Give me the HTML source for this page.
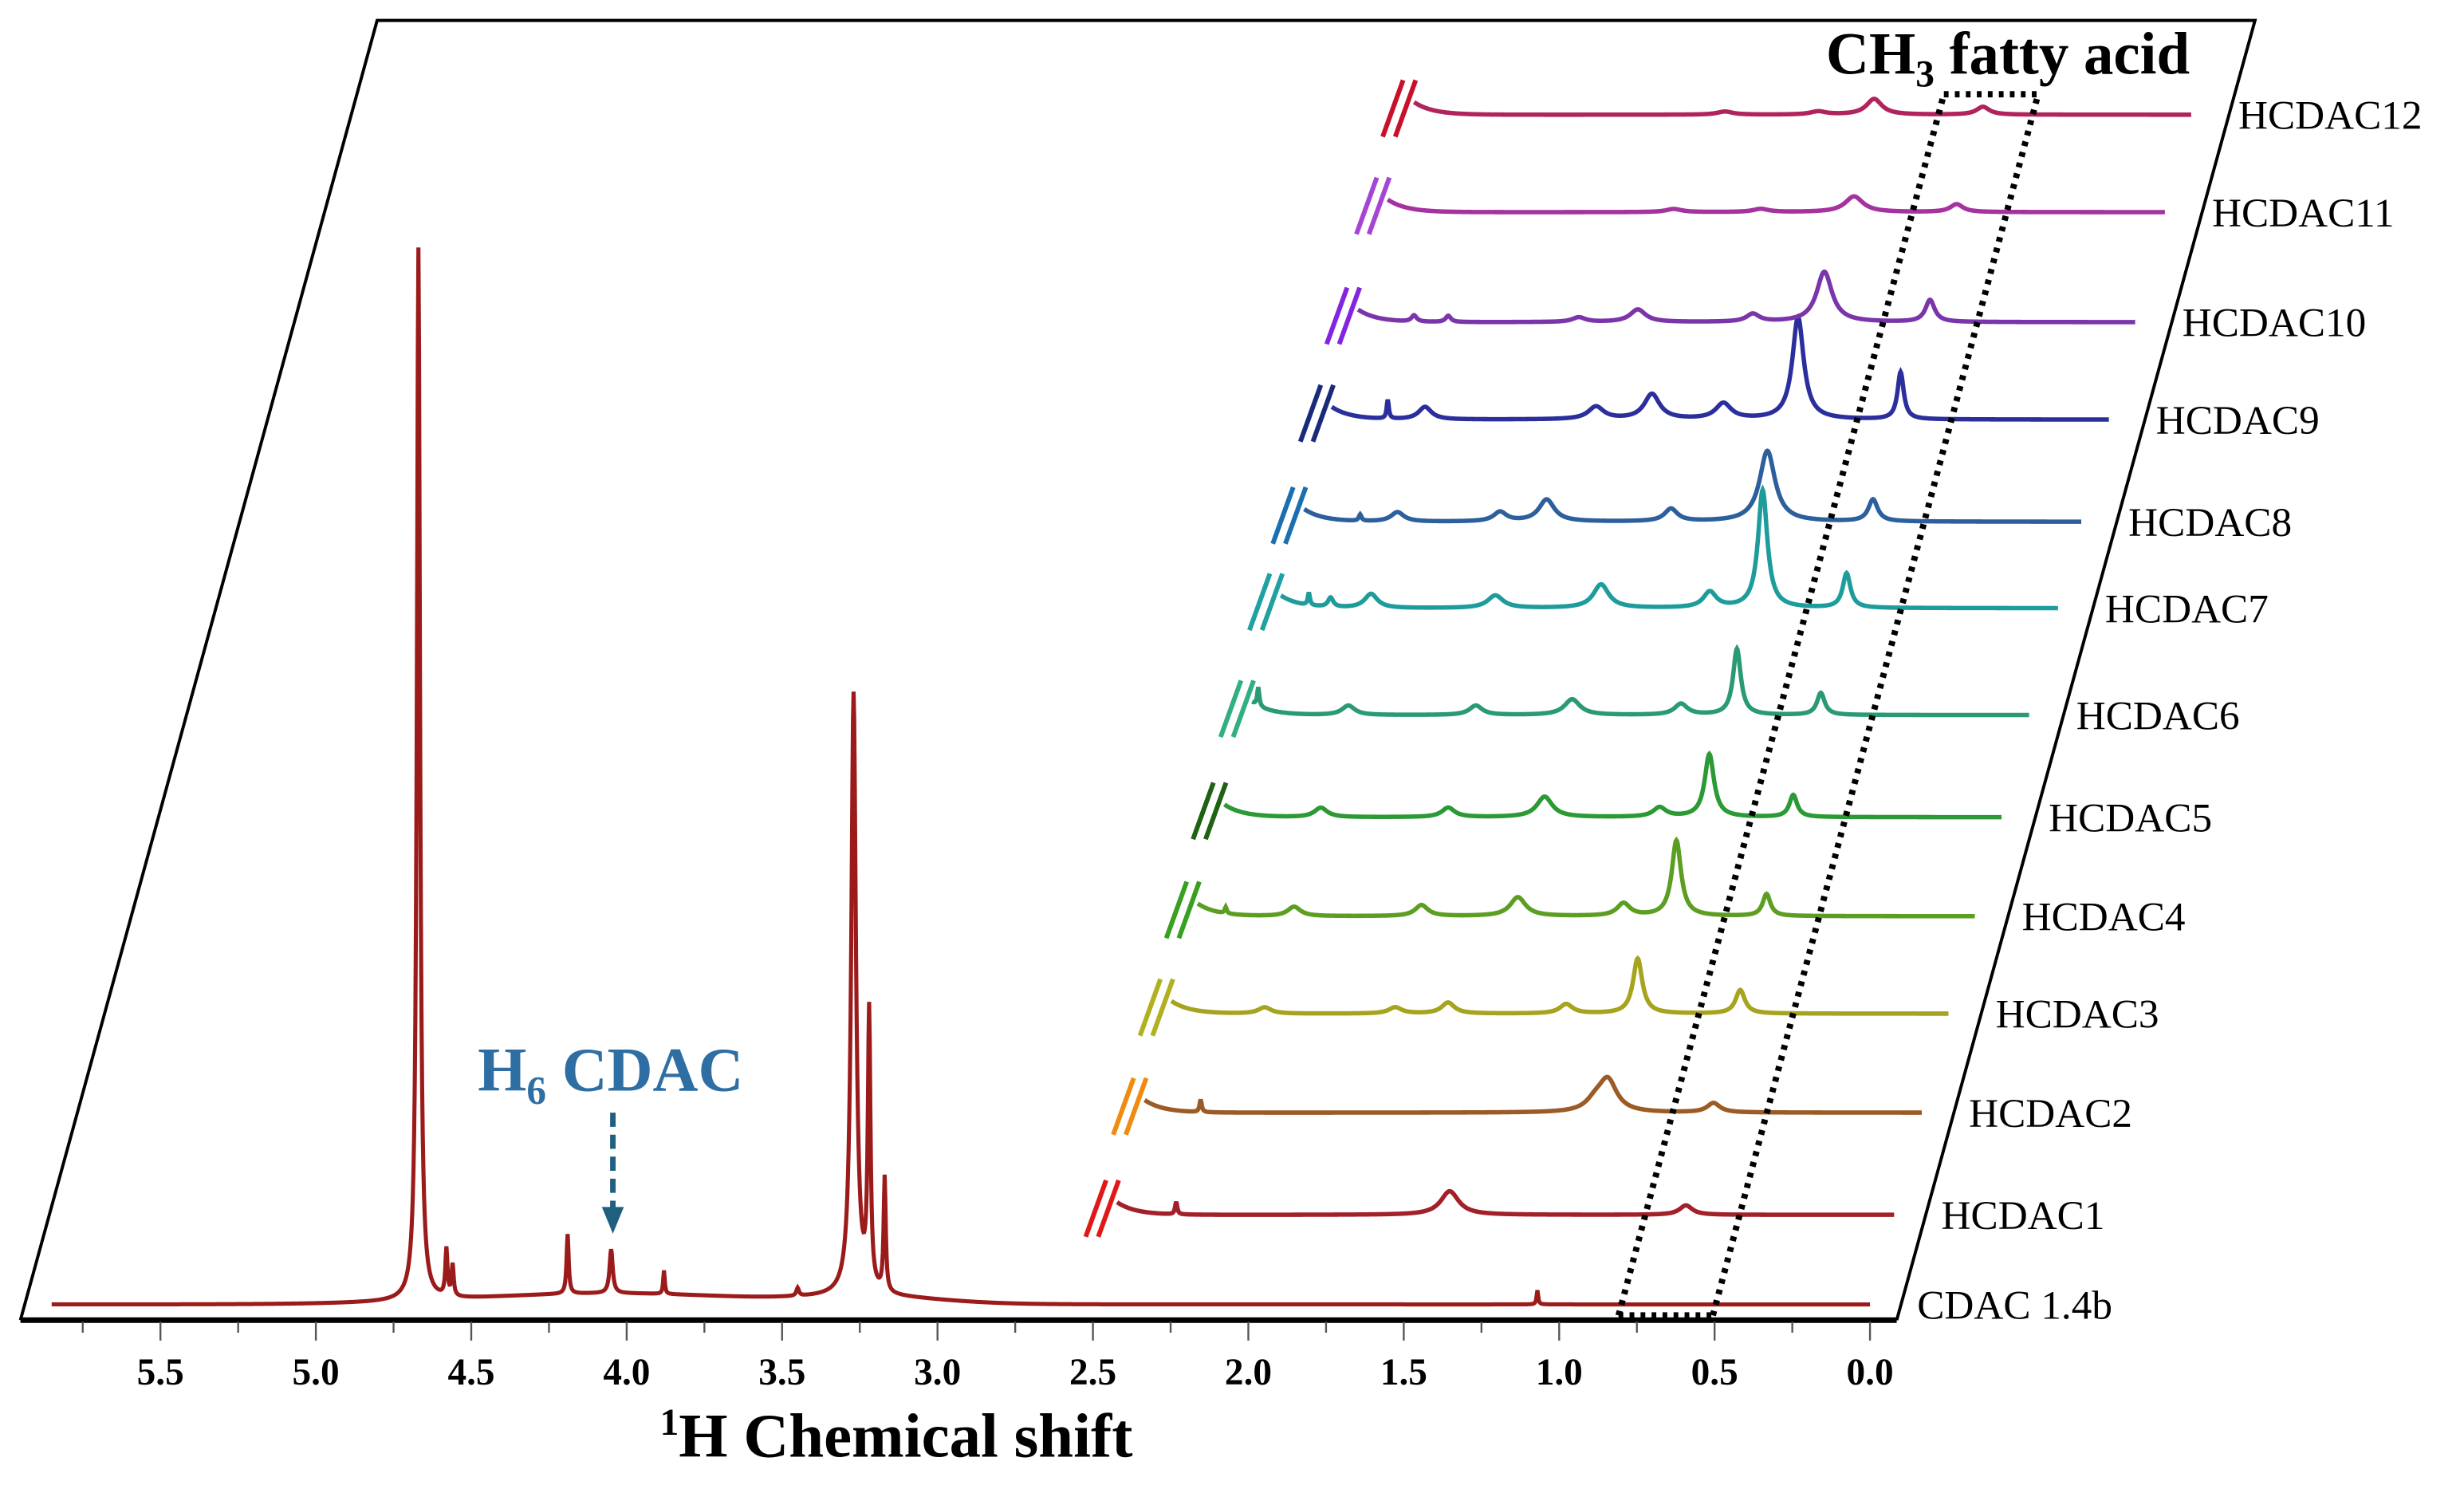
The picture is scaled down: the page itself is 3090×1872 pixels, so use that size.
<!DOCTYPE html>
<html><head><meta charset="utf-8">
<style>
html,body{margin:0;padding:0;background:#fff;}
svg{display:block;}
text{font-family:"Liberation Serif",serif;}
</style></head>
<body>
<svg id="chart" width="3090" height="1872" viewBox="0 0 1568 950" preserveAspectRatio="none" xmlns="http://www.w3.org/2000/svg">
  <polyline points="13,840 240,13 1435,13 1207,840" fill="none" stroke="#000" stroke-width="2"/>
  <line x1="13" y1="840" x2="1207" y2="840" stroke="#000" stroke-width="3.5"/>
  <g id="ticks"></g>
  <g id="traces"></g>
  <g id="labels"></g>
  <g fill="none" stroke="#000" stroke-width="4" stroke-dasharray="3,4">
    <line x1="1030" y1="837" x2="1237" y2="60"/>
    <line x1="1090" y1="837" x2="1297" y2="60"/>
    <line x1="1237" y1="60" x2="1297" y2="60"/>
    <line x1="1030" y1="837" x2="1090" y2="837"/>
  </g>
  <text x="1162" y="47" font-size="38" font-weight="bold">CH<tspan font-size="24" dy="8">3</tspan><tspan dy="-8"> fatty acid</tspan></text>
  <text x="304" y="694" font-size="40" font-weight="bold" fill="#2f6ea3">H<tspan font-size="25" dy="8">6</tspan><tspan dy="-8"> CDAC</tspan></text>
  <line x1="390" y1="708" x2="390" y2="772" stroke="#1f5f80" stroke-width="3.5" stroke-dasharray="9,5"/>
  <polygon points="383,768 397,768 390,785" fill="#1f5f80"/>
  <text x="420" y="927" font-size="40" font-weight="bold"><tspan font-size="24" dy="-14">1</tspan><tspan dy="14">H Chemical shift</tspan></text>
</svg>
<script>
const tickValues = [5.5,5.0,4.5,4.0,3.5,3.0,2.5,2.0,1.5,1.0,0.5,0.0];
const tickLabels = ["5.5","5.0","4.5","4.0","3.5","3.0","2.5","2.0","1.5","1.0","0.5","0.0"];
const traceNames = ["HCDAC1","HCDAC2","HCDAC3","HCDAC4","HCDAC5","HCDAC6","HCDAC7","HCDAC8","HCDAC9","HCDAC10","HCDAC11","HCDAC12"];
const tracePeakPpm = [
  [2.31,1.43,0.67],
  [2.32,1.05,1.01,0.67],
  [2.2,1.78,1.61,1.23,1.0,0.67],
  [2.41,2.19,1.78,1.47,1.13,0.96,0.67],
  [2.19,1.78,1.47,1.10,0.94,0.67],
  [2.48,2.19,1.78,1.47,1.12,0.94,0.67],
  [2.41,2.34,2.21,1.81,1.47,1.12,0.95,0.68],
  [2.32,2.20,1.87,1.72,1.32,1.01,0.67],
  [2.32,2.20,1.65,1.47,1.24,1.0,0.67],
  [2.32,2.21,1.79,1.60,1.23,1.0,0.66],
  [1.58,1.3,1.0,0.67],
  [1.5,1.2,1.02,0.67]
];
const tracePeakHeight = [
  [8,15,6],
  [8,6,20,6],
  [4,4,7,6,35,15],
  [4,6,7,12,8,48,14],
  [6,6,13,6,40,14],
  [12,6,6,10,7,42,14],
  [8,6,9,8,15,10,75,22],
  [4,6,6,14,8,45,14],
  [12,8,8,16,10,65,30],
  [4,4,3,8,5,32,14],
  [2,2,10,5],
  [2,2,10,5]
];
const tracePeakWidth = [
  [0.004,0.035,0.025],
  [0.004,0.035,0.035,0.025],
  [0.025,0.025,0.025,0.025,0.018,0.018],
  [0.004,0.025,0.025,0.03,0.025,0.018,0.015],
  [0.025,0.025,0.03,0.025,0.018,0.015],
  [0.004,0.025,0.025,0.03,0.025,0.015,0.015],
  [0.004,0.01,0.025,0.03,0.03,0.025,0.018,0.015],
  [0.005,0.025,0.025,0.03,0.025,0.03,0.018],
  [0.004,0.025,0.03,0.03,0.03,0.022,0.012],
  [0.01,0.01,0.025,0.03,0.025,0.03,0.018],
  [0.03,0.03,0.035,0.025],
  [0.03,0.03,0.03,0.025]
];
const cdacPeakPpm = [4.67,4.58,4.56,4.19,4.05,3.88,3.45,3.27,3.22,3.17,1.07];
const cdacPeakHeight = [670,30,20,38,28,15,5,383,175,73,9];
const cdacPeakWidth = [0.006,0.004,0.004,0.004,0.006,0.003,0.005,0.009,0.005,0.004,0.003];

// layout (not data)
const baselines = [773,708,645,583,520,455,387,332,267,205,135,73];
const colors = ["#a3202a","#9c5a24","#a6a41e","#5c9e22","#2c9a34","#2a9a74","#1e9c9c","#2c5f9c","#2b2f9c","#7a35ab","#a4339f","#b0245e"];
const breakColors = ["#e01818","#f08a10","#b0b020","#38a020","#1f6212","#30b080","#20a0a0","#1a6fb0","#1a2a7a","#8424e0","#a445d4","#c8102a"];
const NS = "http://www.w3.org/2000/svg";
const x0 = 1190, pxPerPpm = 197.8, baseY = 830;
function xScale(ppm){ return x0 - ppm*pxPerPpm; }
function lor(x,p,h,g){ return h*g*g/((x-p)*(x-p)+g*g); }

const tg = document.getElementById('ticks');
for (let v = 5.75; v >= -0.001; v -= 0.25) {
  const major = Math.abs(v*2 - Math.round(v*2)) < 1e-6;
  const l = document.createElementNS(NS,'line');
  
  
  l.setAttribute('x1',xScale(v)); l.setAttribute('x2',xScale(v));
  l.setAttribute('y1',841); l.setAttribute('y2',major?853:848);
  l.setAttribute('stroke','#555'); l.setAttribute('stroke-width','1.2');
  tg.appendChild(l);
}
tickValues.forEach((v,i)=>{
  const t = document.createElementNS(NS,'text');
  
  
  t.setAttribute('x',xScale(v)); t.setAttribute('y',881);
  t.setAttribute('text-anchor','middle'); t.setAttribute('font-size','24');
  t.setAttribute('font-weight','bold');
  t.textContent = tickLabels[i];
  tg.appendChild(t);
});

const trg = document.getElementById('traces');
const lg = document.getElementById('labels');
{
  let d = "";
  for (let p = 5.85; p >= 0; p -= 0.002) {
    let y = baseY;
    y -= 7*Math.exp(-Math.pow((p-4.05)/0.6,2));
    y -= 4*Math.exp(-Math.pow((p-3.2)/0.3,2));
    for (let k=0;k<cdacPeakPpm.length;k++) y -= lor(p,cdacPeakPpm[k],cdacPeakHeight[k],cdacPeakWidth[k]);
    d += (d?"L":"M") + xScale(p).toFixed(2) + "," + y.toFixed(2);
  }
  const path = document.createElementNS(NS,'path');
  
  
  path.setAttribute('d',d); path.setAttribute('fill','none');
  path.setAttribute('stroke','#9b1b1b'); path.setAttribute('stroke-width','2.6');
  trg.appendChild(path);
  const t = document.createElementNS(NS,'text');
  
  
  t.setAttribute('x',1220); t.setAttribute('y',839); t.setAttribute('font-size','26');
  t.textContent = "CDAC 1.4b";
  lg.appendChild(t);
}
traceNames.forEach((name,i)=>{
  const b = baselines[i];
  const off = 0.27*(baseY - b);
  let d = "";
  for (let p = 2.5; p >= 0; p -= 0.002) {
    let y = b;
    y -= 8*Math.exp(-(2.5-p)/0.06);
    const pk = tracePeakPpm[i];
    for (let k=0;k<pk.length;k++) y -= lor(p,pk[k],tracePeakHeight[i][k],tracePeakWidth[i][k]);
    d += (d?"L":"M") + (xScale(p)+off).toFixed(2) + "," + y.toFixed(2);
  }
  const path = document.createElementNS(NS,'path');
  
  
  path.setAttribute('d',d); path.setAttribute('fill','none');
  path.setAttribute('stroke',colors[i]); path.setAttribute('stroke-width','2.8');
  trg.appendChild(path);
  const sx = xScale(2.5)+off;
  for (let j=0;j<2;j++){
    const l = document.createElementNS(NS,'line');
    
    
    l.setAttribute('x1',sx-20+j*8); l.setAttribute('y1',b+14);
    l.setAttribute('x2',sx-7+j*8); l.setAttribute('y2',b-22);
    l.setAttribute('stroke',breakColors[i]); l.setAttribute('stroke-width','3');
    trg.appendChild(l);
  }
  const t = document.createElementNS(NS,'text');
  
  
  t.setAttribute('x',xScale(0)+off+30); t.setAttribute('y',b+9); t.setAttribute('font-size','26');
  t.textContent = name;
  lg.appendChild(t);
});
</script>
</body></html>
